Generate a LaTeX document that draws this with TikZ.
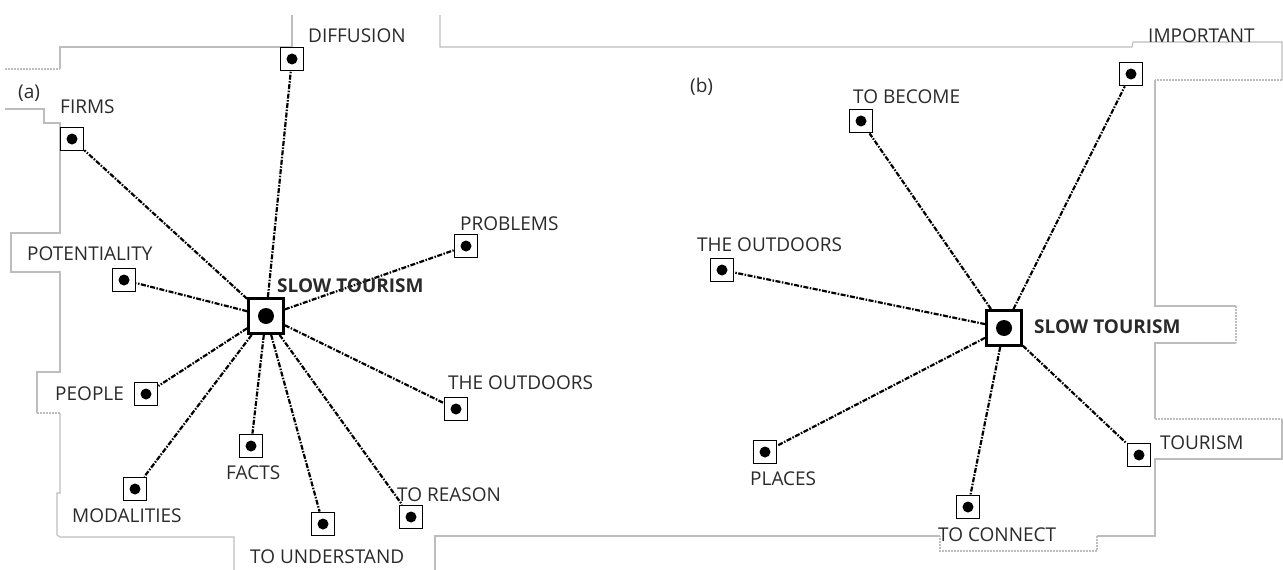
\documentclass[tikz,border=0pt]{standalone}
\usepackage{fontspec}
\setmainfont{Open Sans}
\definecolor{txt}{HTML}{2A2A2A}
\definecolor{frame}{HTML}{BDBDBD}
\tikzset{
  sbox/.style={draw, line width=1.8pt, minimum size=23pt, inner sep=0pt,
    path picture={\fill (path picture bounding box.center) circle (5.5pt);}},
  hub/.style={draw, line width=2.8pt, minimum size=35pt, inner sep=0pt,
    path picture={\fill (path picture bounding box.center) circle (8pt);}},
  lbl/.style={anchor=west, inner sep=0pt, text=txt, font=\fontsize{19}{22}\selectfont},
  hublbl/.style={lbl, font=\fontsize{19}{22}\selectfont\bfseries},
  conn/.style={line width=2.2pt, dash pattern=on 5pt off 1.5pt on 1.5pt off 1.5pt},
  fr/.style={draw=frame, line width=1.1pt},
  frd/.style={fr, dash pattern=on 2pt off 1pt}
}
\begin{document}
\begin{tikzpicture}[x=1pt,y=-1pt]
\useasboundingbox (0,0) rectangle (1283,570);
% background frame traces
\draw[frd] (5,69) -- (60,69);
\draw[fr] (60,69) -- (60,47) -- (292,47) -- (292,15);
\draw[fr] (440,15) -- (440,47) -- (1132,47) -- (1133,42) -- (1282,42) -- (1282,80);
\draw[frd] (1282,80) -- (1155,80);
\draw[fr] (1155,80) -- (1155,306) -- (1236,306);
\draw[frd] (1236,306) -- (1236,343);
\draw[fr] (1236,343) -- (1155,343) -- (1155,419);
\draw[frd] (1155,419) -- (1282,419);
\draw[fr] (1282,419) -- (1282,459) -- (1155,459) -- (1155,536) -- (1097,536);
\draw[frd] (1097,536) -- (1097,551) -- (940,551) -- (940,536);
\draw[fr] (940,536) -- (435,536) -- (435,570);
\draw[fr] (234,570) -- (234,537) -- (60,537) -- (57,535) -- (57,493) -- (60,493) -- (60,413);
\draw[frd] (60,413) -- (37,413);
\draw[fr] (37,413) -- (37,372) -- (60,372) -- (60,272) -- (11,272) -- (11,233) -- (60,233) -- (60,123) -- (44,123) -- (44,109) -- (5,109);

% ---------- (a) ----------
\node[lbl] (la) at (18,93) {(a)};
\node[hub] (ha) at (266,316) {};
\node[sbox] (a1) at (292,59) {};
\node[sbox] (a2) at (72,139) {};
\node[sbox] (a3) at (124,280) {};
\node[sbox] (a4) at (146,394) {};
\node[sbox] (a5) at (135,489) {};
\node[sbox] (a6) at (251,446) {};
\node[sbox] (a7) at (323,524) {};
\node[sbox] (a8) at (411,517) {};
\node[sbox] (a9) at (456,409) {};
\node[sbox] (a10) at (466,246) {};
\foreach \n in {a1,a2,a3,a4,a5,a6,a7,a8,a9,a10} \draw[conn] (ha) -- (\n);
\node[lbl] (ta1) at (308,36) {DIFFUSION};
\node[lbl] (ta2) at (60,107) {FIRMS};
\node[lbl] (ta3) at (27,254) {POTENTIALITY};
\node[lbl] (ta4) at (55,394) {PEOPLE};
\node[lbl] (ta5) at (72,516) {MODALITIES};
\node[lbl] (ta6) at (226,473) {FACTS};
\node[lbl] (ta7) at (250,557) {TO UNDERSTAND};
\node[lbl] (ta8) at (397,495) {TO REASON};
\node[lbl] (ta9) at (448,383) {THE OUTDOORS};
\node[lbl] (ta10) at (460,224) {PROBLEMS};
\node[hublbl] (tha) at (277,286) {SLOW TOURISM};

% ---------- (b) ----------
\node[lbl] (lb) at (690,87) {(b)};
\node[hub] (hb) at (1004,328) {};
\node[sbox] (b1) at (861,121) {};
\node[sbox] (b2) at (1131,74) {};
\node[sbox] (b3) at (722,270) {};
\node[sbox] (b4) at (765,452) {};
\node[sbox] (b5) at (968,507) {};
\node[sbox] (b6) at (1139,455) {};
\foreach \n in {b1,b2,b3,b4,b5,b6} \draw[conn] (hb) -- (\n);
\node[lbl] (tb1) at (853,97) {TO BECOME};
\node[lbl] (tb2) at (1148,36) {IMPORTANT};
\node[lbl] (tb3) at (697,245) {THE OUTDOORS};
\node[lbl] (tb4) at (750,479) {PLACES};
\node[lbl] (tb5) at (938,535) {TO CONNECT};
\node[lbl] (tb6) at (1160,443) {TOURISM};
\node[hublbl] (thb) at (1034,327) {SLOW TOURISM};
\end{tikzpicture}
\end{document}
